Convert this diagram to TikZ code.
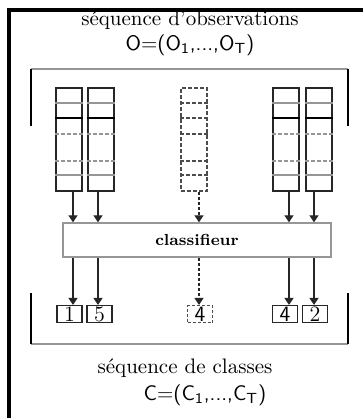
\documentclass[tikz,border=0pt]{standalone}
\usepackage{tikz}
\usetikzlibrary{arrows.meta}
\definecolor{lg}{RGB}{150, 150, 150}

\begin{document}
\begin{tikzpicture}[x=0.5pt, y=-0.5pt,
  col/.style={rectangle, draw=black!85, line width=0.7pt, minimum width=13pt, minimum height=51.5pt, inner sep=0pt},
  dcol/.style={col, draw=black!70, dash pattern=on 2pt off 1pt},
  outbox/.style={rectangle, draw=black!85, line width=0.6pt, minimum width=12.5pt, minimum height=8.5pt, inner sep=0pt, font=\fontsize{11}{11}\selectfont},
  lbl/.style={font=\fontsize{10.5}{12}\selectfont},
  arr/.style={-{Triangle[length=3.5pt, width=4.5pt]}, line width=0.6pt, color=black!85},
  darr/.style={arr, dash pattern=on 1.5pt off 1pt}]
\useasboundingbox (0,0) rectangle (363,418);
% frame, top and left only
\draw [line width=1.6pt] (363,10) -- (9,10) -- (9,418);
% texts
\node (t1) [lbl] at (190,20) {séquence d'observations};
\node (t2) [lbl] at (190,45) {\sffamily O=(O\textsubscript{1},...,O\textsubscript{T})};
\node (t3) [lbl] at (185,368) {séquence de classes};
\node (t4) [lbl] at (205,395) {\sffamily C=(C\textsubscript{1},...,C\textsubscript{T})};
% brackets
\draw [line width=0.6pt, color=lg] (31,69) -- (348,69);
\draw [line width=0.6pt] (31,69) -- (31,126);
\draw [line width=0.6pt] (348,69) -- (348,126);
\draw [line width=0.6pt, color=lg] (31,344) -- (348,344);
\draw [line width=0.6pt] (31,293) -- (31,344);
\draw [line width=0.6pt] (348,293) -- (348,344);
% observation columns
\node (c1) [col] at (69,139.5) {};
\node (c2) [col] at (101,139.5) {};
\node (c3) [dcol] at (194,139.5) {};
\node (c4) [col] at (286,139.5) {};
\node (c5) [col] at (319,139.5) {};
\foreach \c in {c1,c2,c4,c5} {
  \draw [line width=0.6pt, color=lg] (\c.west |- 0,103) -- (\c.east |- 0,103);
  \draw [line width=0.6pt] (\c.west |- 0,118) -- (\c.east |- 0,118);
  \draw [line width=0.6pt, color=lg, dash pattern=on 2pt off 1pt] (\c.west |- 0,134) -- (\c.east |- 0,134);
  \draw [line width=0.6pt, color=lg, dash pattern=on 2pt off 1pt] (\c.west |- 0,161) -- (\c.east |- 0,161);
  \draw [line width=0.6pt, color=lg] (\c.west |- 0,175) -- (\c.east |- 0,175);
}
\foreach \y in {103,118,134,161,175}
  \draw [line width=0.6pt, color=black!70, dash pattern=on 2pt off 1pt] (c3.west |- 0,\y) -- (c3.east |- 0,\y);
% classifier
\node (cl) [rectangle, draw=lg, line width=0.7pt, minimum width=134pt, minimum height=17pt, font=\footnotesize\bfseries] at (197,240) {classifieur};
% class boxes
\node (o1) [outbox] at (69.5,314) {1};
\node (o2) [outbox] at (99.5,314) {5};
\node (o3) [outbox, draw=black!70, dash pattern=on 1.5pt off 1pt] at (200,314) {\sffamily 4};
\node (o4) [outbox] at (285,314) {\sffamily 4};
\node (o5) [outbox] at (315,314) {2};
% lanes
\coordinate (l1) at (73,0);
\coordinate (l2) at (98,0);
\coordinate (l3) at (199,0);
\coordinate (l4) at (289,0);
\coordinate (l5) at (314,0);
\draw [arr] (c1.south -| l1) -- (cl.north -| l1);
\draw [arr] (c2.south -| l2) -- (cl.north -| l2);
\draw [darr] (c3.south -| l3) -- (cl.north -| l3);
\draw [arr] (c4.south -| l4) -- (cl.north -| l4);
\draw [arr] (c5.south -| l5) -- (cl.north -| l5);
\draw [arr] (cl.south -| l1) -- (o1.north -| l1);
\draw [arr] (cl.south -| l2) -- (o2.north -| l2);
\draw [darr] (cl.south -| l3) -- (o3.north -| l3);
\draw [arr] (cl.south -| l4) -- (o4.north -| l4);
\draw [arr] (cl.south -| l5) -- (o5.north -| l5);
\end{tikzpicture}
\end{document}
